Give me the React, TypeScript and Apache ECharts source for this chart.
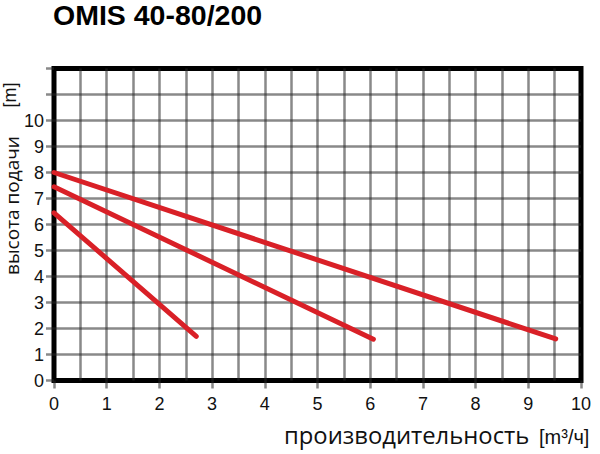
import React, { useEffect, useRef } from "react";
import * as echarts from "echarts";

const chartTitle = "OMIS 40-80/200";
const xAxisTitle = "производительность";
const xAxisUnit = "[m³/ч]";
const yAxisTitle = "высота подачи";
const yAxisUnit = "[m]";

const xMin = 0;
const xMax = 10;
const yMin = 0;
const yMax = 12;
const yLabelMax = 10;

// pump curves: flow [m³/h] vs head [m]
const curveSmallFlow = [0, 2.7];
const curveSmallHead = [6.45, 1.7];
const curveMidFlow = [0, 6.06];
const curveMidHead = [7.45, 1.59];
const curveLargeFlow = [0, 9.52];
const curveLargeHead = [8.0, 1.6];

const toPairs = (xs: number[], ys: number[]) => xs.map((x, i) => [x, ys[i]]);

const RED = "#d92027";
const GRID_LINE = "rgba(40,40,40,0.55)";

export default function App() {
  const ref = useRef<HTMLDivElement>(null);

  useEffect(() => {
    if (!ref.current) return;
    const chart = echarts.init(ref.current, null, { renderer: "svg" });

    const lineSeries = (name: string, xs: number[], ys: number[]) => ({
      type: "line",
      name,
      data: toPairs(xs, ys),
      showSymbol: false,
      symbol: "none",
      lineStyle: { color: RED, width: 5, cap: "round" },
      z: 5,
    });

    chart.setOption({
      animation: false,
      backgroundColor: "#ffffff",
      textStyle: { fontFamily: "Liberation Sans, Arial, sans-serif" },
      grid: {
        left: 54,
        right: 19,
        top: 68.5,
        bottom: 73.5,
        show: true,
        borderColor: "#000000",
        borderWidth: 5,
        backgroundColor: "transparent",
        containLabel: false,
      },
      xAxis: {
        type: "value",
        min: xMin,
        max: xMax,
        interval: 1,
        axisLine: { show: false },
        axisTick: { show: true, length: 8, lineStyle: { color: GRID_LINE, width: 2.5 } },
        axisLabel: {
          color: "#111",
          fontSize: 18,
          margin: 14,
          fontFamily: "Liberation Sans, Arial, sans-serif",
        },
        splitLine: {
          show: true,
          showMinLine: false,
          showMaxLine: false,
          lineStyle: { color: GRID_LINE, width: 2.5 },
        },
        minorTick: { show: false, splitNumber: 2 },
        minorSplitLine: { show: true, lineStyle: { color: GRID_LINE, width: 2.5 } },
      },
      yAxis: {
        type: "value",
        min: yMin,
        max: yMax,
        interval: 1,
        axisLine: { show: false },
        axisTick: { show: true, length: 8, lineStyle: { color: GRID_LINE, width: 2.5 } },
        axisLabel: {
          color: "#111",
          fontSize: 18,
          margin: 10,
          padding: [0, 0, 4, 0],
          fontFamily: "Liberation Sans, Arial, sans-serif",
          formatter: (v: number) => (v <= yLabelMax ? String(v) : ""),
        },
        splitLine: {
          show: true,
          showMinLine: false,
          showMaxLine: false,
          lineStyle: { color: GRID_LINE, width: 2.5 },
        },
      },
      graphic: [
        {
          type: "text",
          x: 53,
          y: 0,
          style: {
            text: chartTitle,
            fill: "#000",
            font: "bold 28.5px 'Liberation Sans', Arial, sans-serif",
            textAlign: "left",
            textVerticalAlign: "top",
          },
        },
        {
          type: "text",
          x: 284,
          y: 447,
          style: {
            text: xAxisTitle,
            fill: "#111",
            font: "23.8px 'Open Sans', sans-serif",
            textAlign: "left",
            textVerticalAlign: "bottom",
          },
        },
        {
          type: "text",
          x: 539,
          y: 447,
          style: {
            text: xAxisUnit,
            fill: "#111",
            font: "20px 'Liberation Sans', Arial, sans-serif",
            textAlign: "left",
            textVerticalAlign: "bottom",
          },
        },
        {
          type: "text",
          x: 11.5,
          y: 205.5,
          rotation: Math.PI / 2,
          style: {
            text: yAxisTitle,
            fill: "#111",
            font: "19px 'Open Sans', sans-serif",
            textAlign: "center",
            textVerticalAlign: "middle",
          },
        },
        {
          type: "text",
          x: 10,
          y: 95,
          rotation: Math.PI / 2,
          style: {
            text: yAxisUnit,
            fill: "#111",
            font: "18px 'Liberation Sans', Arial, sans-serif",
            textAlign: "center",
            textVerticalAlign: "middle",
          },
        },
      ],
      series: [
        lineSeries("small", curveSmallFlow, curveSmallHead),
        lineSeries("mid", curveMidFlow, curveMidHead),
        lineSeries("large", curveLargeFlow, curveLargeHead),
      ],
    });

    return () => chart.dispose();
  }, []);

  return <div ref={ref} style={{ width: 600, height: 454, position: "absolute", left: 0, top: 0 }} />;
}
